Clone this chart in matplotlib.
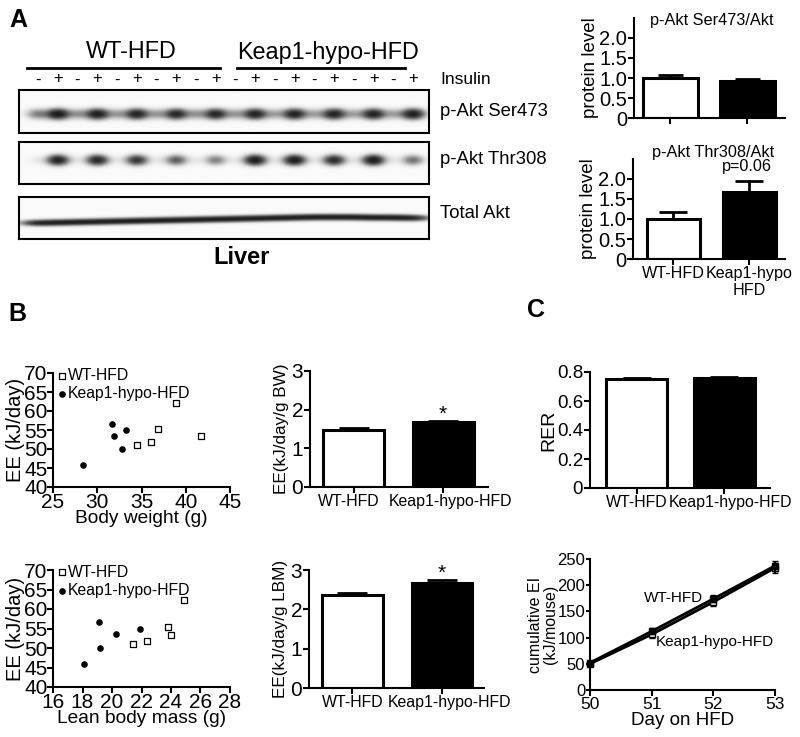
import numpy as np
import matplotlib
matplotlib.use("Agg")
from matplotlib import pyplot as plt
from matplotlib.transforms import ScaledTranslation

plt.rcParams['font.family'] = ['Liberation Sans', 'DejaVu Sans']
plt.rcParams['axes.linewidth'] = 1.5

W, H = 800, 737

# ---- data ----
groups = ["WT-HFD", "Keap1-hypo-HFD"]
insulin = ["-", "+"] * 10
blot_names = ["p-Akt Ser473", "p-Akt Thr308", "Total Akt"]
ser473 = [0.3, 1.0, 0.22, 0.95, 0.2, 0.9, 0.2, 0.85, 0.22, 0.85,
          0.2, 0.9, 0.18, 0.9, 0.18, 0.9, 0.18, 0.9, 0.18, 0.95]
thr308 = [0.03, 0.9, 0.03, 0.85, 0.03, 0.7, 0.03, 0.45, 0.03, 0.3,
          0.03, 1.0, 0.03, 1.0, 0.03, 0.8, 0.03, 1.0, 0.03, 0.35]
total_akt = [0.7] * 20
total_akt_row = [0.62, 0.61, 0.60, 0.59, 0.58, 0.57, 0.56, 0.55, 0.54, 0.53,
                 0.52, 0.51, 0.50, 0.49, 0.48, 0.48, 0.48, 0.49, 0.49, 0.50]

ser_ratio = [1.0, 0.92]
ser_err = [0.08, 0.05]
thr_ratio = [1.0, 1.67]
thr_err = [0.18, 0.28]

wt_ee = [51.0, 51.8, 55.3, 62.2, 53.3]
wt_bw = [34.5, 36.1, 36.9, 38.9, 41.7]
wt_lbm = [21.4, 22.4, 23.8, 24.9, 24.0]
ko_ee = [56.6, 53.5, 54.9, 50.0, 45.9]
ko_bw = [31.7, 31.9, 33.2, 32.8, 28.4]
ko_lbm = [19.1, 20.3, 21.9, 19.2, 18.1]

ee_bw = [1.47, 1.67]
ee_bw_err = [0.05, 0.04]
ee_lbm = [2.36, 2.66]
ee_lbm_err = [0.05, 0.08]

rer = [0.752, 0.760]
rer_err = [0.004, 0.004]

days = [50, 51, 52, 53]
ei_wt = [52, 112, 174, 237]
ei_ko = [50, 106, 168, 233]
ei_err = [3, 6, 7, 10]


def box(l, t, r, b):
    return [l / W, 1 - b / H, (r - l) / W, (b - t) / H]


def ftext(x, y, s, **kw):
    kw.setdefault('ha', 'center')
    kw.setdefault('va', 'center')
    fig.text(x / W, 1 - y / H, s, **kw)


def shift_xlabels(ax, offsets):
    for lab, dx in zip(ax.get_xticklabels(), offsets):
        lab.set_transform(lab.get_transform() + ScaledTranslation(dx / 100, 0, fig.dpi_scale_trans))


fig = plt.figure(figsize=(8, 7.37), dpi=100)

# ---- panel letters ----
ftext(18, 20, "A", fontsize=18, fontweight='bold')
ftext(17, 314, "B", fontsize=18, fontweight='bold')
ftext(536, 310, "C", fontsize=18, fontweight='bold')

# ---- western blot ----
lane_x = np.arange(len(insulin))
xl, xr = -0.96, 19.8

hdr = fig.add_axes(box(19, 35, 429, 88))
hdr.set_xlim(xl, xr)
hdr.set_ylim(88, 35)
hdr.axis('off')
spans = [(-0.55, 0.22), (0.1, -0.4)]
for gi, g in enumerate(groups):
    lanes = lane_x[gi * 10:(gi + 1) * 10]
    hdr.plot([lanes[0] + spans[gi][0], lanes[-1] + spans[gi][1]], [68, 68], color='black', lw=2)
    hdr.text(lanes.mean() + 0.2, 52, g, ha='center', va='center', fontsize=16.8)
for k, s in enumerate(insulin):
    hdr.text(lane_x[k], 80 if s == '-' else 79, s, ha='center', va='center', fontsize=12)
ftext(440, 80, "Insulin", fontsize=12.5, ha='left')

blots = [
    (ser473, [0.56] * 20, 0.36, 0.075, (90, 133)),
    (thr308, [0.43] * 20, 0.33, 0.075, (142, 184)),
    (total_akt, total_akt_row, 0.55, 0.045, (197, 239)),
]
gx = np.linspace(xl, xr, 800)
gy = np.linspace(0, 1, 80)
GX, GY = np.meshgrid(gx, gy)
label_y = [112, 160, 213]
for (vals, rows, sx, sy, (t, b)), name, ly in zip(blots, blot_names, label_y):
    ax = fig.add_axes(box(19, t, 429, b))
    img = np.zeros_like(GX)
    for k, (a, yc) in enumerate(zip(vals, rows)):
        img += a * np.exp(-0.5 * ((GX - lane_x[k]) / sx) ** 2) * np.exp(-0.5 * ((GY - yc) / sy) ** 2)
    dark = 1 - np.exp(-2.2 * img)
    ax.imshow(dark, cmap='gray_r', vmin=-0.02, vmax=1.0, extent=(xl, xr, 1, 0),
              aspect='auto', interpolation='bilinear')
    ax.set_xlim(xl, xr)
    ax.set_ylim(1, 0)
    ax.set_xticks([])
    ax.set_yticks([])
    ftext(440, ly, name, fontsize=13.3, ha='left')
ftext(242, 258, "Liver", fontsize=17, fontweight='bold')


def bar_panel(ax, vals, errs, xlim, width, cap, ylim, yticks, ylabels, fs=12, tick_labels=None, tfs=11.5):
    x = np.arange(len(vals))
    ax.bar(x, vals, width, color=['white', 'black'], edgecolor='black', linewidth=2.2, zorder=2)
    ax.errorbar(x, vals, yerr=[np.zeros(len(vals)), errs], fmt='none', ecolor='black',
                elinewidth=2, capsize=cap, capthick=2, zorder=3)
    ax.set_xlim(*xlim)
    ax.set_ylim(*ylim)
    ax.set_yticks(yticks)
    ax.set_yticklabels(ylabels, fontsize=fs)
    ax.set_xticks(x)
    if tick_labels is None:
        ax.set_xticklabels([])
    else:
        ax.set_xticklabels(tick_labels, fontsize=tfs, multialignment='center')
    for s in ['top', 'right']:
        ax.spines[s].set_visible(False)
    ax.tick_params(direction='out', length=4, width=1.5, pad=1)


# ---- A quantification ----
ax = fig.add_axes(box(634, 18, 785, 118))
bar_panel(ax, ser_ratio, ser_err, (-0.47, 1.49), 0.71, 9, (0, 2.5),
          [0, 0.5, 1.0, 1.5, 2.0], ["0", "0.5", "1.0", "1.5", "2.0"], fs=14.5)
ax.set_ylabel("protein level", fontsize=13.5)
ax.yaxis.set_label_coords(-0.235, 0.5)
ftext(712, 20, "p-Akt Ser473/Akt", fontsize=11.7)

ax = fig.add_axes(box(633, 159, 785, 259))
bar_panel(ax, thr_ratio, thr_err, (-0.53, 1.47), 0.69, 10, (0, 2.5),
          [0, 0.5, 1.0, 1.5, 2.0], ["0", "0.5", "1.0", "1.5", "2.0"], fs=14.5,
          tick_labels=["WT-HFD", "Keap1-hypo\nHFD"], tfs=11.6)
ax.set_ylabel("protein level", fontsize=13.5)
ax.yaxis.set_label_coords(-0.235, 0.5)
ftext(713, 152, "p-Akt Thr308/Akt", fontsize=11.7)
ftext(747, 167, "p=0.06", fontsize=11.7)

# ---- B scatter ----
for (t, b, xv_wt, xv_ko, xlim, xticks, xlabel) in [
        (373, 487, wt_bw, ko_bw, (25, 45), np.arange(25, 46, 5), "Body weight (g)"),
        (570, 687, wt_lbm, ko_lbm, (16, 28), np.arange(16, 29, 2), "Lean body mass (g)")]:
    ax = fig.add_axes(box(53, t, 230, b))
    ax.scatter(xv_wt, wt_ee, marker='s', s=22, facecolor='white', edgecolor='black', linewidth=0.9,
               label="WT-HFD", zorder=3)
    ax.scatter(xv_ko, ko_ee, marker='o', s=14, color='black', label="Keap1-hypo-HFD", zorder=3)
    ax.set_xlim(*xlim)
    ax.set_ylim(40, 70)
    ax.set_xticks(xticks)
    ax.set_yticks(np.arange(40, 71, 5))
    ax.tick_params(direction='out', length=4, width=1.5, labelsize=15, pad=0)
    for s in ['top', 'right']:
        ax.spines[s].set_visible(False)
    ax.set_xlabel(xlabel, fontsize=13.8, labelpad=-1)
    ax.set_ylabel("EE (kJ/day)", fontsize=14.5)
    ax.yaxis.set_label_coords(-0.16, 0.5)
    ax.legend(loc='upper left', bbox_to_anchor=(0.025, 1.06), frameon=False, fontsize=11.3,
              handlelength=0.4, handletextpad=0.15, borderpad=0.1, labelspacing=0.2,
              borderaxespad=0.0, scatterpoints=1)

# ---- B bars ----
ax = fig.add_axes(box(310, 371, 488, 487))
bar_panel(ax, ee_bw, ee_bw_err, (-0.486, 1.50), 0.68, 11, (0, 3), [0, 1, 2, 3],
          ["0", "1", "2", "3"], fs=15, tick_labels=groups, tfs=11.4)
shift_xlabels(ax, [-5, 7])
ax.set_ylabel("EE(kJ/day/g BW)", fontsize=12.3)
ax.yaxis.set_label_coords(-0.12, 0.5)
ax.annotate("*", (1, ee_bw[1] + ee_bw_err[1]), xytext=(0, -2), textcoords='offset points',
            ha='center', va='bottom', fontsize=15)

ax = fig.add_axes(box(309, 570, 484, 688))
bar_panel(ax, ee_lbm, ee_lbm_err, (-0.486, 1.47), 0.68, 11, (0, 3), [0, 1, 2, 3],
          ["0", "1", "2", "3"], fs=15, tick_labels=groups, tfs=11.4)
shift_xlabels(ax, [0, 8])
ax.set_ylabel("EE(kJ/day/g LBM)", fontsize=12.3)
ax.yaxis.set_label_coords(-0.12, 0.5)
ax.annotate("*", (1, ee_lbm[1] + ee_lbm_err[1]), xytext=(0, -2), textcoords='offset points',
            ha='center', va='bottom', fontsize=15)

# ---- C RER ----
ax = fig.add_axes(box(590, 372, 770, 488))
bar_panel(ax, rer, rer_err, (-0.53, 1.52), 0.69, 10, (0, 0.8), [0, 0.2, 0.4, 0.6, 0.8],
          ["0", "0.2", "0.4", "0.6", "0.8"], fs=13.5, tick_labels=groups, tfs=11.4)
shift_xlabels(ax, [0, 6])
ax.set_ylabel("RER", fontsize=14)
ax.yaxis.set_label_coords(-0.18, 0.5)

# ---- C cumulative EI ----
ax = fig.add_axes(box(590, 559, 775, 690))
ax.errorbar(days, ei_ko, yerr=ei_err, color='black', lw=2, marker='s', ms=5,
            mfc='white', mec='black', capsize=2, elinewidth=1.5, clip_on=False, zorder=3)
ax.errorbar(days, ei_wt, yerr=ei_err, color='black', lw=2, marker='s', ms=5,
            mfc='black', mec='black', capsize=2, elinewidth=1.5, clip_on=False, zorder=4)
ax.set_xlim(50, 53)
ax.set_ylim(0, 250)
ax.set_xticks(days)
ax.set_yticks(np.arange(0, 251, 50))
ax.tick_params(axis='y', direction='out', length=3, width=1.5, labelsize=12, pad=0.5)
ax.tick_params(axis='x', direction='out', length=4, width=1.5, labelsize=12.5, pad=1)
for s in ['top', 'right']:
    ax.spines[s].set_visible(False)
ax.set_xlabel("Day on HFD", fontsize=13.5, labelpad=0)
ax.set_ylabel("cumulative EI\n(kJ/mouse)", fontsize=11.5, linespacing=1.0)
ax.yaxis.set_label_coords(-0.175, 0.5)
ax.text(51.35, 176, "WT-HFD", ha='center', va='center', fontsize=11)
ax.text(52.03, 92, "Keap1-hypo-HFD", ha='center', va='center', fontsize=11)

fig.savefig("out.png", dpi=100)
